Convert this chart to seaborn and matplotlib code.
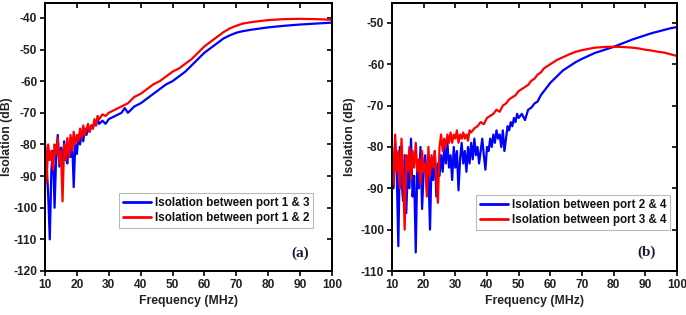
import matplotlib
matplotlib.use("Agg")
import matplotlib.pyplot as plt
import seaborn as sns
import numpy as np

# ---------------- data ----------------
# Panel (a)
freq_a_13 = [10, 10.5, 11, 11.5, 12, 12.5, 13, 13.5, 14, 14.5, 15, 15.5, 16, 16.5, 17, 17.5,
             18, 18.5, 19, 19.5, 20, 20.5, 21, 21.5, 22, 22.5, 23, 23.5, 24, 24.5, 25, 25.5,
             26, 26.5, 27, 28, 29, 30, 32, 34, 35, 36, 38, 40, 42, 44, 46, 48, 50, 52, 54,
             56, 58, 60, 62, 64, 66, 68, 70, 72, 75, 80, 85, 90, 95, 100]
iso_13 = [-80, -86, -96, -110, -88, -82, -100, -84, -77, -87, -81, -86, -79, -84, -86, -80,
          -84, -78, -93.5, -80, -83, -77, -80, -76, -79, -75, -77, -75, -76, -74, -75, -73,
          -74, -72, -73.5, -72.5, -73.5, -72, -71, -70, -68.5, -70, -68, -67, -65.5, -64, -62.5, -61, -60, -58.5, -57,
          -55, -53, -51, -49.5, -48, -46.5, -45.5, -44.7, -44.2, -43.7, -43, -42.5, -42.1, -41.8, -41.5]

freq_a_12 = [10, 10.5, 11, 11.5, 12, 12.5, 13, 13.5, 14, 14.5, 15, 15.5, 16, 16.5, 17, 17.5,
             18, 18.5, 19, 19.5, 20, 20.5, 21, 21.5, 22, 22.5, 23, 23.5, 24, 24.5, 25, 25.5,
             26, 26.5, 27, 28, 29, 30, 32, 34, 36, 38, 40, 42, 44, 46, 48, 50, 52, 54,
             56, 58, 60, 62, 64, 66, 68, 70, 72, 75, 80, 85, 90, 95, 100]
iso_12 = [-79, -92, -80, -85, -82, -88, -80, -83, -78, -86, -82, -98, -80, -85, -78, -84,
          -77, -82, -76, -80, -77, -79, -75, -78, -74, -77, -75, -73.5, -76, -74, -75, -72,
          -74, -71, -72, -70.5, -71, -70, -69, -68, -67, -65, -64, -62.5, -61, -60, -58.5, -57, -56, -54.5,
          -53, -51, -49, -47.5, -46, -44.5, -43.3, -42.5, -41.8, -41.3, -40.7, -40.4, -40.3, -40.4, -40.6]

# Panel (b)
freq_b_24 = [10, 10.5, 11, 11.5, 12, 12.5, 13, 13.5, 14, 14.5, 15, 15.5, 16, 16.5, 17, 17.5,
             18, 18.5, 19, 19.5, 20, 20.5, 21, 21.5, 22, 22.5, 23, 23.5, 24, 24.5, 25, 25.5,
             26, 26.5, 27, 27.5, 28, 28.5, 29, 29.5, 30, 30.5, 31, 31.5, 32, 32.5, 33, 33.5,
             34, 34.5, 35, 35.5, 36, 36.5, 37, 37.5, 38, 38.5, 39, 39.5, 40, 40.5, 41, 41.5,
             42, 42.5, 43, 43.5, 44, 44.5, 45, 45.5, 46, 46.5, 47, 47.5, 48, 48.5, 49, 49.5,
             50, 51, 52, 53, 54, 55, 56, 57, 58, 59, 60, 62, 64, 66, 68, 70, 72, 74, 76, 78,
             80, 82, 84, 86, 88, 90, 92, 94, 96, 98, 100]
iso_24 = [-82, -90, -79, -86, -104, -80, -88, -93, -82, -96, -85, -90, -78, -92, -87, -105.5,
          -84, -90, -80, -95, -86, -82, -90, -85, -100, -83, -88, -81, -92, -84, -87, -82,
          -86, -80, -84, -79, -85, -82, -88, -80, -85, -81, -90.5, -83, -79, -84, -81, -86,
          -80, -84, -79, -83, -78, -82, -80, -84, -81, -78, -82, -85.5, -80, -81, -78, -80,
          -77, -79, -76, -78, -77, -80, -76, -81, -78, -75, -76, -74, -75, -73, -74, -72,
          -73, -72, -73.5, -71, -70.5, -69.5, -69, -67.5, -66.5, -65.5, -64.5, -63, -61.5, -60.5, -59.5, -58.7, -58, -57.3, -56.8, -56.3,
          -55.8, -55.2, -54.6, -54, -53.5, -53, -52.5, -52.1, -51.7, -51.3, -51]

freq_b_34 = [10, 10.5, 11, 11.5, 12, 12.5, 13, 13.5, 14, 14.5, 15, 15.5, 16, 16.5, 17, 17.5,
             18, 18.5, 19, 19.5, 20, 20.5, 21, 21.5, 22, 22.5, 23, 23.5, 24, 24.5, 25, 25.5,
             26, 26.5, 27, 27.5, 28, 28.5, 29, 29.5, 30, 30.5, 31, 31.5, 32, 32.5, 33, 33.5,
             34, 34.5, 35, 36, 37, 38, 39, 40, 41, 42, 43, 44, 45, 46, 47, 48, 49, 50, 51, 52,
             53, 54, 55, 56, 57, 58, 59, 60, 62, 64, 66, 68, 70, 72, 74, 76, 78, 80, 82, 84,
             86, 88, 90, 92, 94, 96, 98, 100]
iso_34 = [-80, -89, -77, -86, -81, -90, -78, -87, -100, -82, -86, -80, -88, -81, -85, -79,
          -86, -83, -89, -81, -86, -84, -92, -80, -87, -82, -85, -81, -88, -93.5, -80, -77,
          -81, -78, -80, -77, -79, -76.5, -79, -77, -78, -76, -79, -77, -78, -76.5, -78, -77,
          -78.5, -76, -76.5, -75.5, -75, -74, -74.5, -73, -72.5, -72, -71, -71.5, -70, -69.5, -68.5, -68, -67.5, -66.5, -66, -65.5,
          -65, -64, -63.5, -62.5, -62, -61, -60.5, -60, -59, -58.3, -57.6, -57, -56.6, -56.3, -56, -55.9, -55.8, -55.8, -55.8, -55.9,
          -56, -56.2, -56.5, -56.7, -57, -57.2, -57.6, -58]

x_ticks = [10, 20, 30, 40, 50, 60, 70, 80, 90, 100]
y_ticks_a = [-120, -110, -100, -90, -80, -70, -60, -50, -40]
y_ticks_b = [-110, -100, -90, -80, -70, -60, -50]

# ---------------- style ----------------
sns.set_theme(style="white")
plt.rcParams['font.family'] = ['Liberation Sans', 'DejaVu Sans']
plt.rcParams['font.weight'] = 'bold'

fig = plt.figure(figsize=(6.86, 3.15), dpi=100)
W, H = 686, 315
ax_a = fig.add_axes([45 / W, 1 - 271 / H, (332 - 45) / W, (271 - 3) / H])
ax_b = fig.add_axes([392 / W, 1 - 271 / H, (677 - 392) / W, (271 - 3) / H])

panels = [
    (ax_a, freq_a_13, iso_13, "Isolation between port 1 & 3",
     freq_a_12, iso_12, "Isolation between port 1 & 2", (-120, -35.3), y_ticks_a, "(a)",
     (0.258, 0.16), (0.889, 0.067), -0.113),
    (ax_b, freq_b_24, iso_24, "Isolation between port 2 & 4",
     freq_b_34, iso_34, "Isolation between port 3 & 4", (-110, -45.2), y_ticks_b, "(b)",
     (0.295, 0.153), (0.894, 0.07), -0.126),
]

for ax, xb, yb, lb, xr, yr, lr, ylim, yt, tag, legpos, tagpos, ylx in panels:
    sns.lineplot(x=xb, y=yb, ax=ax, color="#0000ff", lw=1.6, label=lb, estimator=None, sort=False)
    sns.lineplot(x=xr, y=yr, ax=ax, color="#ff0000", lw=1.6, label=lr, estimator=None, sort=False)
    ax.set_xlim(10, 100)
    ax.set_ylim(*ylim)
    ax.set_xticks(x_ticks)
    ax.set_yticks(yt)
    ax.set_xticklabels([str(v) for v in x_ticks], fontsize=8.6, fontweight='bold', color='#222222')
    ax.set_yticklabels([str(v) for v in yt], fontsize=8.6, fontweight='bold', color='#222222')
    ax.tick_params(axis='both', direction='out', length=3.5, width=1.2, color='black', pad=2,
                   left=True, bottom=True)
    for s in ax.spines.values():
        s.set_color('black')
        s.set_linewidth(1.4)
    # inward ticks on top / right
    sec_x = ax.secondary_xaxis('top')
    sec_x.set_xticks(x_ticks)
    sec_x.tick_params(direction='in', length=3.5, width=1.2, labeltop=False, color='black')
    sec_x.spines['top'].set_linewidth(1.4)
    sec_y = ax.secondary_yaxis('right')
    sec_y.set_yticks(yt)
    sec_y.tick_params(direction='in', length=3.5, width=1.2, labelright=False, color='black')
    sec_y.spines['right'].set_linewidth(1.4)

    ax.set_xlabel("Frequency (MHz)", fontsize=8.8, fontweight='bold', color='#222222', labelpad=3)
    ax.set_ylabel("Isolation (dB)", fontsize=8.8, fontweight='bold', color='#222222')
    ax.yaxis.set_label_coords(ylx, 0.5)

    leg = ax.legend(loc='lower left', bbox_to_anchor=legpos, fontsize=8.4, frameon=True,
                    fancybox=False, handlelength=2.4, handletextpad=0.3, borderpad=0.35,
                    labelspacing=0.25, borderaxespad=0)
    leg.get_frame().set_edgecolor('#aaaaaa')
    leg.get_frame().set_linewidth(0.8)
    for t in leg.get_texts():
        t.set_fontweight('bold')
        t.set_color('#111111')
    for l in leg.get_lines():
        l.set_linewidth(2.0)

    ax.text(tagpos[0], tagpos[1], tag, transform=ax.transAxes, ha='center', va='center',
            fontsize=11, fontweight='bold', family=['Liberation Serif', 'DejaVu Serif'],
            color='#1a1a3a')

fig.savefig("out.png", dpi=100)
